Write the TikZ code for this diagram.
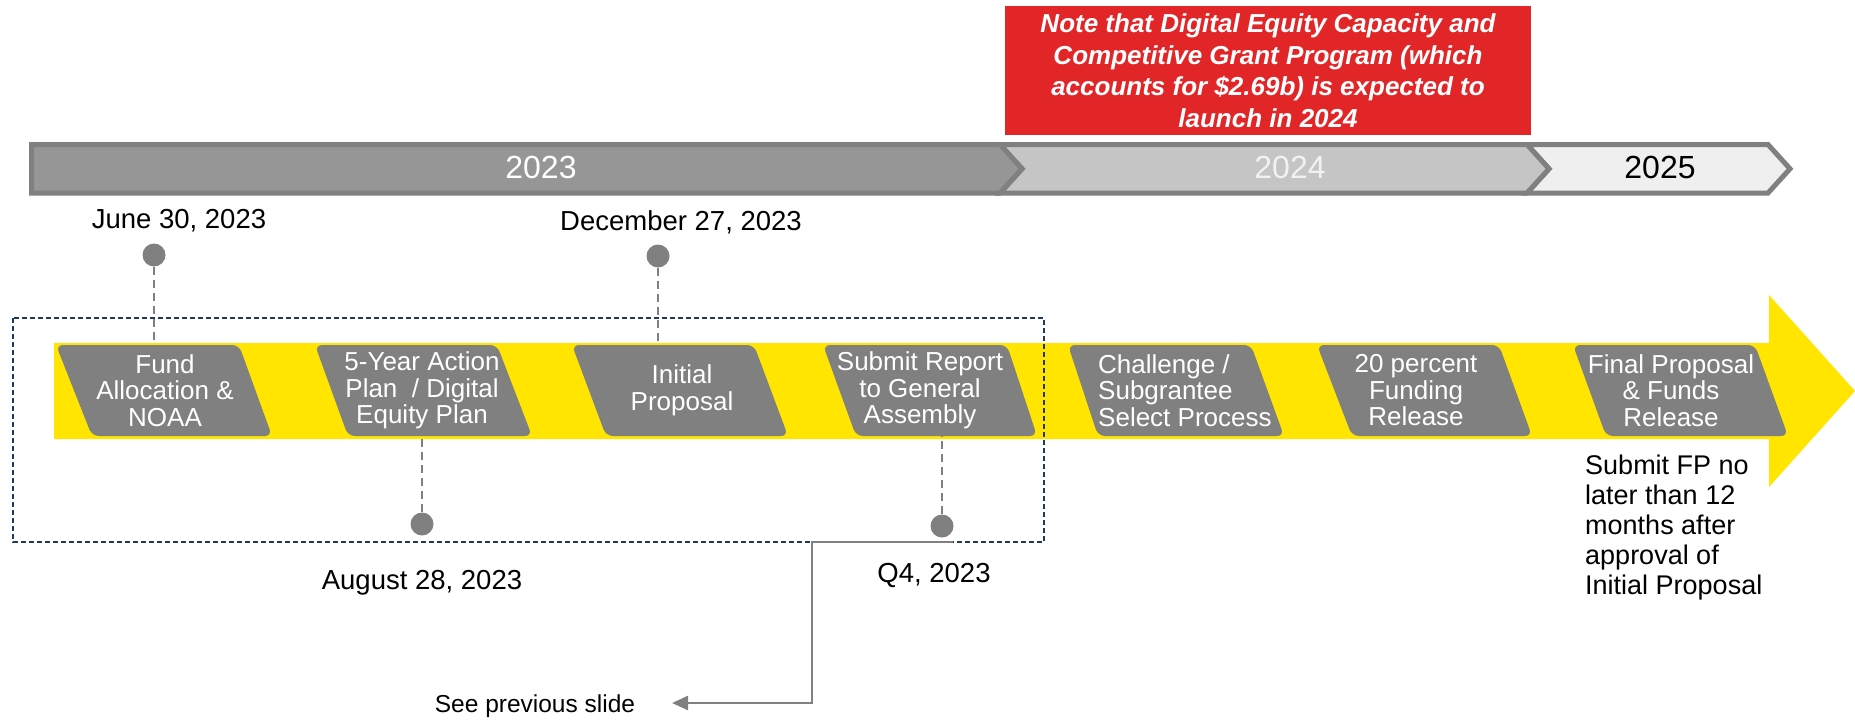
\documentclass[tikz,border=0pt]{standalone}
\usepackage{fontspec}
\setmainfont{Liberation Sans}
\usetikzlibrary{arrows.meta}
\definecolor{gr}{HTML}{808080}
\definecolor{ylw}{HTML}{FFE500}
\definecolor{rd}{HTML}{E22526}
\definecolor{nv}{HTML}{1F3864}
\definecolor{yA}{HTML}{969696}
\definecolor{yB}{HTML}{C5C5C5}
\definecolor{yC}{HTML}{EFEFEF}
\begin{document}
\begin{tikzpicture}[x=1pt,y=-1pt,
 yearseg/.style={draw=gr, line width=5pt, line join=miter},
 yeartxt/.style={font=\fontsize{32}{34}\selectfont, inner sep=0pt},
 gbox/.style={fill=gr, rounded corners=7pt},
 btxt/.style={text=white, font=\fontsize{26}{26.5}\selectfont, align=center, inner sep=0pt},
 dotn/.style={circle, fill=gr, minimum size=23pt, inner sep=0pt},
 dashln/.style={draw=gr, line width=2pt, dash pattern=on 8pt off 5pt},
 datetxt/.style={font=\fontsize{27.5}{30}\selectfont, anchor=base, inner sep=0pt},
 conn/.style={draw=gr, line width=2.5pt, -{Triangle[length=16pt,width=14pt]}},
]
\useasboundingbox (0,0) rectangle (1855,720);

% red note
\node[fill=rd, minimum width=526pt, minimum height=129pt, inner sep=0pt, text=white,
      font=\bfseries\itshape\fontsize{26}{31.5}\selectfont, align=center] (note) at (1268,70.5)
 {Note that Digital Equity Capacity and\\Competitive Grant Program (which\\accounts for \$2.69b) is expected to\\launch in 2024};

% year bar
\path[yearseg, fill=yC] (1527,144.5) -- (1768,144.5) -- (1790,168.8) -- (1768,193) -- (1527,193) -- (1549,168.8) -- cycle;
\path[yearseg, fill=yB] (1000,144.5) -- (1527,144.5) -- (1549,168.8) -- (1527,193) -- (1000,193) -- (1022,168.8) -- cycle;
\path[yearseg, fill=yA] (31.5,144.5) -- (1000,144.5) -- (1022,168.8) -- (1000,193) -- (31.5,193) -- cycle;
\node[yeartxt, text=white] (y23) at (541,167) {2023};
\node[yeartxt, text=white!95!black] (y24) at (1290,167) {2024};
\node[yeartxt, text=black] (y25) at (1660,167) {2025};

% yellow arrow
\fill[ylw] (54,343) -- (1769,343) -- (1769,295) -- (1855,391) -- (1769,487) -- (1769,439) -- (54,439) -- cycle;

% grey boxes
\path[gbox] (56,345) -- (239,345) -- (272,436) -- (92,436) -- cycle;
\path[gbox] (315,345) -- (497,345) -- (532,436) -- (348,436) -- cycle;
\path[gbox] (572,345) -- (754,345) -- (788,436) -- (606,436) -- cycle;
\path[gbox] (823,345) -- (1007,345) -- (1037,436) -- (856,436) -- cycle;
\path[gbox] (1068,345) -- (1251,345) -- (1284,436) -- (1098,436) -- cycle;
\path[gbox] (1317,345) -- (1499,345) -- (1532,436) -- (1352,436) -- cycle;
\path[gbox] (1573,345) -- (1755,345) -- (1788,436) -- (1606,436) -- cycle;

\node[btxt] (b1) at (165,390.5) {Fund\\Allocation \&\\NOAA};
\node[btxt] (b2) at (422,390.5) {5-Year Action\\Plan~~/ Digital\\Equity Plan};
\node[btxt] (b3) at (682,390.5) {Initial\\Proposal};
\node[btxt] (b4) at (920,390.5) {Submit Report\\to General\\Assembly};
\node[btxt, align=left, anchor=west] (b5) at (1098,390.5) {Challenge /\\Subgrantee\\Select Process};
\node[btxt] (b6) at (1416,390.5) {20 percent\\Funding\\Release};
\node[btxt] (b7) at (1671,390.5) {Final Proposal\\\& Funds\\Release};

\coordinate (boxtop) at (0,345);
\coordinate (boxbot) at (0,436);

% dashed frame
\draw[nv, line width=2pt, dash pattern=on 5pt off 3pt] (13,318) rectangle (1044,542);

% milestones
\node[dotn] (d1) at (154,255) {};
\node[dotn] (d2) at (422,524) {};
\node[dotn] (d3) at (658,256) {};
\node[dotn] (d4) at (942,526) {};
\draw[dashln] (d1) -- (d1 |- boxtop);
\draw[dashln] (d3) -- (d3 |- boxtop);
\draw[dashln] (d2) -- (d2 |- boxbot);
\draw[dashln] (d4) -- (d4 |- boxbot);

\node[datetxt] (t1) at (179,228) {June 30, 2023};
\node[datetxt] (t3) at (681,230) {December 27, 2023};
\node[datetxt] (t2) at (422,589) {August 28, 2023};
\node[datetxt] (t4) at (934,582) {Q4, 2023};

% final note
\node[font=\fontsize{27}{30}\selectfont, align=left, anchor=west, inner sep=0pt] (fp) at (1585,528)
 {Submit FP no\\later than 12\\months after\\approval of\\Initial Proposal};

% see previous slide
\node[font=\fontsize{24.5}{27}\selectfont, anchor=base, inner sep=0pt] (prev) at (535,712) {See previous slide};
\coordinate (c0) at (953,542);
\coordinate (c1) at (812,542);
\coordinate (c2) at (812,703);
\coordinate (c3) at (672,703);
\draw[conn] (c0) -- (c1) -- (c2) -- (c3);
\end{tikzpicture}
\end{document}
